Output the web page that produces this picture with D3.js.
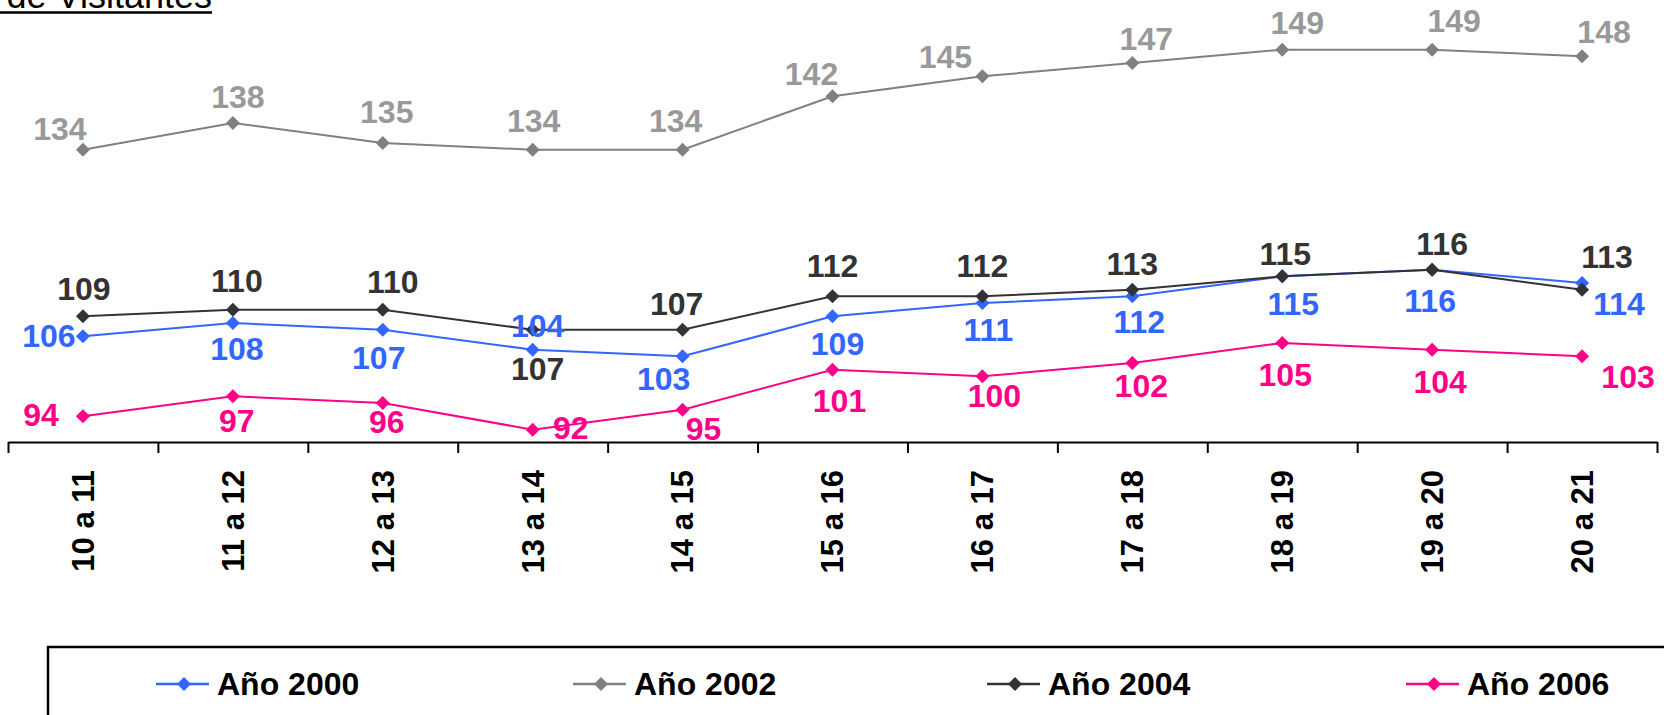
<!DOCTYPE html>
<html>
<head>
<meta charset="utf-8">
<script src="https://cdn.jsdelivr.net/npm/d3@7"></script>
<style>
  body { margin: 0; background: #fff; }
  text { font-family: Arial, 'Liberation Sans', sans-serif; }
</style>
</head>
<body>
<div id="chart"></div>
<script>
// data //
const categories = ['10 a 11', '11 a 12', '12 a 13', '13 a 14', '14 a 15', '15 a 16', '16 a 17', '17 a 18', '18 a 19', '19 a 20', '20 a 21']
const seriesNames = ['Año 2000', 'Año 2002', 'Año 2004', 'Año 2006']
const ano2000 = [106, 108, 107, 104, 103, 109, 111, 112, 115, 116, 114]
const ano2002 = [134, 138, 135, 134, 134, 142, 145, 147, 149, 149, 148]
const ano2004 = [109, 110, 110, 107, 107, 112, 112, 113, 115, 116, 113]
const ano2006 = [94, 97, 96, 92, 95, 101, 100, 102, 105, 104, 103]
const titleText = 'de Visitantes'

// look //
const lineColors = ['#3366ff', '#808080', '#333333', '#ff0088']
const labelColors = ['#3366ff', '#999999', '#333333', '#ff0088']
// label nudges (dx, baseline dy) as placed in the original
const nudges = [
  [[-34, 11], [4, 37], [-4, 39], [5, -13], [-19, 34], [5, 39], [6, 38], [7, 37], [11, 39], [-2, 42], [37, 32]],
  [[-23, -10], [5, -15], [4, -20], [1, -18], [-7, -18], [-21, -11], [-37, -8], [14, -13], [15, -16], [22, -18], [22, -13]],
  [[1, -16], [4, -18], [10, -17], [5, 50], [-6, -15], [0, -19], [0, -19], [0, -15], [3, -11], [10, -15], [25, -22]],
  [[-42, 10], [4, 36], [4, 30], [38, 9], [21, 30], [7, 42], [12, 31], [9, 34], [3, 43], [8, 43], [46, 32]]
]

const width = 1664
const height = 715
const fontSize = 32
const axisY = 442

const svg = d3.select('#chart').append('svg')
  .attr('width', width)
  .attr('height', height)

svg.append('rect')
  .attr('width', width)
  .attr('height', height)
  .attr('fill', '#fff')

// scales //
const x = d3.scaleBand()
  .domain(categories)
  .range([8, 1657])
const xEdge = d3.scaleLinear()
  .domain([0, categories.length])
  .range([8, 1657])
const y = d3.scaleLinear()
  .domain([90, 150])
  .range([443, 43])
const cx = c => x(c) + x.bandwidth() / 2

// title (cut at the top) //
const title = svg.append('text')
  .attr('y', 8)
  .style('font-size', '36px')
  .attr('fill', '#000')
  .text(titleText)
const tLen = title.node().getComputedTextLength()
title.attr('x', 212 - tLen)
svg.append('line')
  .attr('x1', 0)
  .attr('x2', 212)
  .attr('y1', 12.5)
  .attr('y2', 12.5)
  .attr('stroke', '#000')
  .attr('stroke-width', 2.5)

// axis //
const axis = svg.append('g')
  .attr('transform', `translate(0, ${axisY})`)
  .call(d3.axisBottom(xEdge)
    .ticks(categories.length)
    .tickFormat('')
    .tickSizeInner(11)
    .tickSizeOuter(0))
axis.select('.domain').attr('stroke', '#000').attr('stroke-width', 2)
axis.selectAll('.tick line').attr('stroke', '#000').attr('stroke-width', 2)

svg.append('g')
  .selectAll('text')
  .data(categories)
  .enter()
  .append('text')
  .attr('transform', d => `translate(${cx(d)}, 470) rotate(-90)`)
  .attr('text-anchor', 'end')
  .attr('dy', '0.35em')
  .style('font-size', '31px')
  .style('font-weight', 'bold')
  .attr('fill', '#000')
  .text(d => d)

// series //
const allSeries = [ano2000, ano2002, ano2004, ano2006]
const diamond = r => `M0,${-r}L${r},0L0,${r}L${-r},0Z`
const line = d3.line()
  .x((d, i) => cx(categories[i]))
  .y(d => y(d))

// draw order: gray, blue, black, pink
const order = [1, 0, 2, 3]
order.forEach(s => {
  const vals = allSeries[s]
  const g = svg.append('g')
  g.append('path')
    .datum(vals)
    .attr('d', line)
    .attr('fill', 'none')
    .attr('stroke', lineColors[s])
    .attr('stroke-width', 2)
  g.selectAll('.mark')
    .data(vals)
    .enter()
    .append('path')
    .attr('class', 'mark')
    .attr('transform', (d, i) => `translate(${cx(categories[i])}, ${y(d)})`)
    .attr('d', diamond(7))
    .attr('fill', lineColors[s])
})

order.forEach(s => {
  svg.append('g')
    .selectAll('text')
    .data(allSeries[s])
    .enter()
    .append('text')
    .attr('x', (d, i) => cx(categories[i]) + nudges[s][i][0])
    .attr('y', (d, i) => y(d) + nudges[s][i][1])
    .attr('text-anchor', 'middle')
    .style('font-size', fontSize + 'px')
    .style('font-weight', 'bold')
    .attr('fill', labelColors[s])
    .text(d => d)
})

// legend //
const legend = svg.append('g')
legend.append('rect')
  .attr('x', 48)
  .attr('y', 647)
  .attr('width', 1700)
  .attr('height', 200)
  .attr('fill', '#fff')
  .attr('stroke', '#000')
  .attr('stroke-width', 2.5)

const legendX = [156, 573, 987, 1406]
const legendY = 684
const item = legend.selectAll('.legend-item')
  .data(seriesNames)
  .enter()
  .append('g')
  .attr('class', 'legend-item')
  .attr('transform', (d, i) => `translate(${legendX[i]}, ${legendY})`)

item.append('line')
  .attr('x1', 0)
  .attr('x2', 53)
  .attr('stroke', (d, i) => lineColors[i])
  .attr('stroke-width', 2.5)
item.append('path')
  .attr('transform', 'translate(28, 0)')
  .attr('d', diamond(7))
  .attr('fill', (d, i) => lineColors[i])
item.append('text')
  .attr('x', 61)
  .attr('y', 11)
  .style('font-size', fontSize + 'px')
  .style('font-weight', 'bold')
  .attr('fill', '#000')
  .text(d => d)
</script>
</body>
</html>
